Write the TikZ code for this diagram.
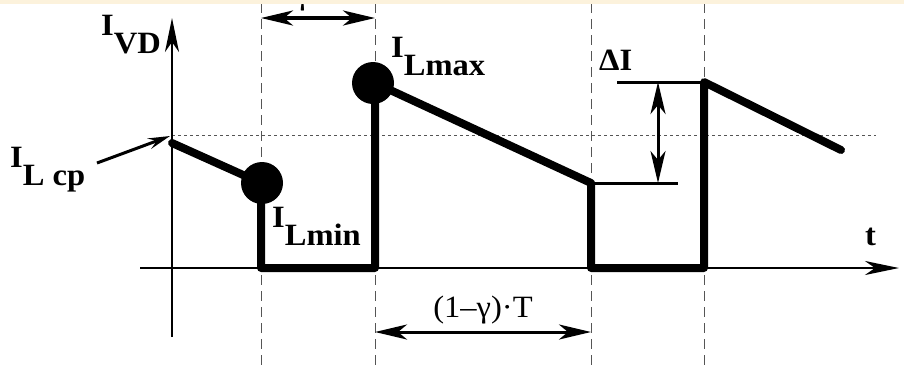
\documentclass[tikz,border=0pt]{standalone}
\usepackage{fontspec}
\setmainfont{Liberation Serif}
\usetikzlibrary{arrows.meta}
\newcommand\mylab[2]{\scalebox{1.05}[1]{#1\raisebox{-18pt}{#2}}}
\definecolor{bandcol}{HTML}{FCF2DC}
\definecolor{guidecol}{HTML}{555555}
\begin{document}
\begin{tikzpicture}[x=1pt,y=-1pt,
  wave/.style={line width=8pt, line cap=round, line join=round},
  guide/.style={guidecol, line width=0.9pt, dash pattern=on 10pt off 6pt},
  refline/.style={guidecol, line width=0.8pt, dash pattern=on 3pt off 3pt},
  axis/.style={line width=2.5pt, -{Stealth[length=34pt,width=14pt,inset=10pt]}},
  dimarrow/.style={line width=3pt, {Stealth[length=32pt,width=15pt,inset=9pt]}-{Stealth[length=32pt,width=15pt,inset=9pt]}},
  dimline/.style={line width=3pt},
  dot/.style={circle, fill=black, inner sep=0pt, minimum size=42pt},
  lab/.style={font=\bfseries\fontsize{31}{31}\selectfont, inner sep=0pt, anchor=base west},
  plain/.style={font=\fontsize{31}{31}\selectfont, inner sep=0pt, anchor=base},
]
\useasboundingbox (0,0) rectangle (904,368);
% guide lines
\coordinate (g1t) at (261,3);   \coordinate (g1b) at (261,368);
\coordinate (g2t) at (375,3);   \coordinate (g2b) at (375,368);
\coordinate (g3t) at (591,3);   \coordinate (g3b) at (591,368);
\coordinate (g4t) at (704,3);   \coordinate (g4b) at (704,368);
\draw[guide] (g1t) -- (g1b);
\draw[guide] (g2t) -- (g2b);
\draw[guide] (g3t) -- (g3b);
\draw[guide] (g4t) -- (g4b);
\coordinate (r1) at (172,135); \coordinate (r2) at (876,135);
\draw[refline] (r1) -- (r2);
% axes
\coordinate (yb) at (172,337); \coordinate (yt) at (172,18);
\coordinate (xl) at (140,268); \coordinate (xr) at (899,268);
\draw[axis] (yb) -- (yt);
\draw[axis] (xl) -- (xr);
% waveform
\coordinate (w0) at (172,143);
\coordinate (w1) at (261,183);
\coordinate (w2) at (261,268);
\coordinate (w3) at (375,268);
\coordinate (w4) at (375,83);
\coordinate (w5) at (591,183);
\coordinate (w6) at (591,268);
\coordinate (w7) at (704,268);
\coordinate (w8) at (704,82);
\coordinate (w9) at (841,150);
\draw[wave] (w0) -- (w1) -- (w2) -- (w3) -- (w4) -- (w5) -- (w6) -- (w7) -- (w8) -- (w9);
\node[dot] (pmin) at (262,183) {};
\node[dot] (pmax) at (373,83) {};
% delta I
\coordinate (d1) at (617,82);
\coordinate (d2) at (678,183);
\draw[dimline] (d1) -- (w8);
\draw[dimline] (w5) -- (d2);
\coordinate (da) at (658,82); \coordinate (db) at (658,183);
\draw[dimarrow] (da) -- (db);
% period arrows
\coordinate (ta) at (261,18); \coordinate (tb) at (375,18);
\draw[dimarrow, line width=3.5pt] (ta) -- (tb);
\coordinate (ba) at (375,332); \coordinate (bb) at (591,332);
\draw[dimarrow] (ba) -- (bb);
% I_L cp pointer
\coordinate (ca) at (97,163); \coordinate (ct) at (170,136);
\draw[line width=3pt, -{Stealth[length=22pt,width=11pt,inset=8pt]}] (ca) -- (ct);
% labels
\node[lab] (ivd) at (101,35) {\mylab{I}{VD}};
\node[lab] (ilmax) at (391,57) {\mylab{I}{Lmax}};
\node[lab] (ilcp) at (10,167) {\mylab{I}{L cp}};
\node[lab] (ilmin) at (272,227) {\mylab{I}{Lmin}};
\node[lab] (dil) at (599,70) {\scalebox{1.05}[1]{ΔI}};
\node[lab] (tl) at (865,245) {\scalebox{1.05}[1]{t}};
\node[plain] (per) at (483,317) {\scalebox{1.05}[1]{(1–γ)·T}};
\node[plain] (topl) at (318,4) {\scalebox{1.05}[1]{γ·T}};
\fill[bandcol] (0,0) rectangle (904,3.5);
\end{tikzpicture}
\end{document}
